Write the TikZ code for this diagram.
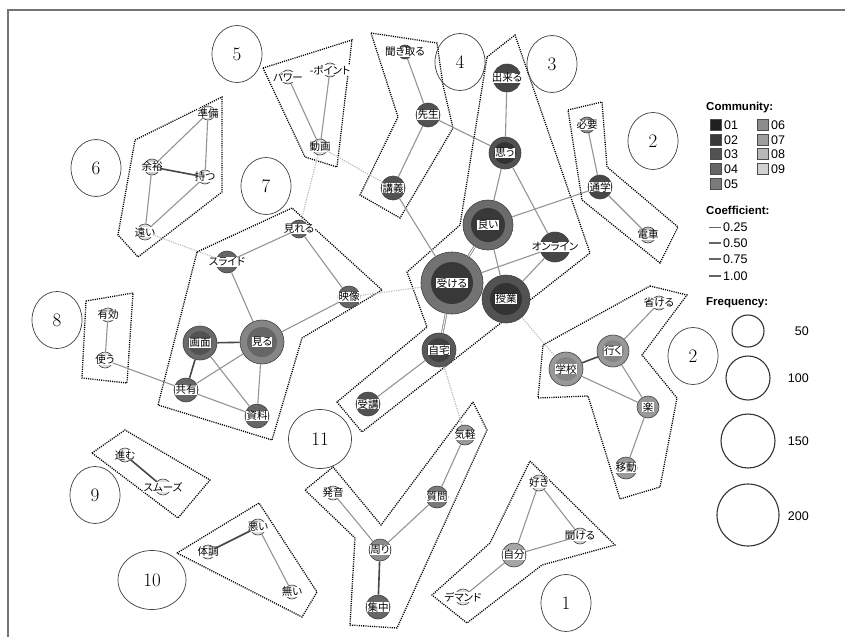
\documentclass[tikz,border=0pt]{standalone}
\usepackage{fontspec}
\usetikzlibrary{shapes.geometric}
\newfontfamily\jp[RawFeature=+palt]{Noto Sans CJK JP}
\newfontfamily\lsans{Liberation Sans}
\newcommand\kwn[6]{\node[kw,minimum size=#4pt,fill=#5,label={[lbl]center:#6}] (#1) at (#2,#3) {};}
\newcommand\kwr[8]{\node[kw,minimum size=#4pt,fill=#5,path picture={\fill[#7] (path picture bounding box.center) circle (#8pt);},label={[lbl]center:#6}] (#1) at (#2,#3) {};}
\begin{document}
\begin{tikzpicture}[x=1pt,y=-1pt,
  kw/.style={circle,draw=black!75,line width=0.6pt,inner sep=0pt},
  lbl/.style={fill=white,inner sep=0.5pt,font=\jp\fontsize{10.5}{10.5}\selectfont},
  ed/.style={draw=black!42,line width=1.1pt},
  eds/.style={draw=black!72,line width=1.6pt},
  edd/.style={draw=black!28,line width=1.1pt,dash pattern=on 1.2pt off 1.2pt},
  hull/.style={draw=black,line width=1.3pt,dash pattern=on 1.1pt off 1.1pt},
  num/.style={ellipse,draw=black!75,line width=0.7pt,minimum width=50pt,minimum height=57pt,inner sep=0pt,font=\fontsize{19}{20}\selectfont},
  sq/.style={draw=black!70,line width=0.6pt,minimum size=11pt,inner sep=0pt},
  lgt/.style={anchor=west,inner sep=0pt,font=\lsans\fontsize{12.5}{13}\selectfont},
  lgh/.style={anchor=west,inner sep=0pt,font=\lsans\bfseries\fontsize{11.5}{12}\selectfont},
  fq/.style={circle,draw=black!80,line width=1.1pt,inner sep=0pt},
]
\useasboundingbox (0,0) rectangle (845,637);
\fill[white] (0,0) rectangle (845,637);
\draw[black!55,line width=1.8pt] (8,637) -- (8,10) -- (845,10);

% hulls
\draw[hull] (135,140) -- (222,97) -- (222,192) -- (138,257) -- (118,235) -- cycle;
\draw[hull] (263,68) -- (352,40) -- (337,167) -- (305,157) -- cycle;
\draw[hull] (371,33) -- (437,43) -- (443,85) -- (453,128) -- (400,218) -- (360,195) -- (398,117) -- cycle;
\draw[hull] (487,57) -- (515,35) -- (590,253) -- (362,432) -- (337,402) -- (427,327) -- (407,272) -- (460,225) -- cycle;
\draw[hull] (568,110) -- (602,102) -- (607,167) -- (678,227) -- (660,263) -- (582,200) -- cycle;
\draw[hull] (197,252) -- (292,208) -- (382,290) -- (302,338) -- (272,440) -- (158,405) -- cycle;
\draw[hull] (86,301) -- (133,293) -- (127,383) -- (82,378) -- cycle;
\draw[hull] (650,286) -- (687,295) -- (642,355) -- (677,398) -- (660,487) -- (620,499) -- (588,396) -- (538,398) -- (543,345) -- cycle;
\draw[hull] (92,453) -- (125,430) -- (210,480) -- (178,518) -- cycle;
\draw[hull] (177,553) -- (259,503) -- (317,592) -- (302,617) -- cycle;
\draw[hull] (473,402) -- (487,430) -- (397,628) -- (350,625) -- (355,538) -- (305,490) -- (333,467) -- (381,525) -- cycle;
\draw[hull] (530,461) -- (615,545) -- (542,565) -- (467,623) -- (432,595) -- (490,543) -- cycle;

% numbered circles
\node[num] (n1) at (566,603) {1};
\node[num] (n2a) at (653,141) {2};
\node[num] (n2b) at (693,356) {2};
\node[num] (n3) at (552,64) {3};
\node[num] (n4) at (460,62) {4};
\node[num] (n5) at (237,54) {5};
\node[num] (n6) at (96,168) {6};
\node[num] (n7) at (266,186) {7};
\node[num] (n8) at (57,320) {8};
\node[num] (n9) at (95,495) {9};
\node[num,minimum width=68pt,minimum height=59pt] (n10) at (152,580) {10};
\node[num,minimum width=63pt,minimum height=59pt] (n11) at (320,439) {11};

% community 3
\kwn{dekiru}{507}{78}{28}{black!72}{出来る}
\kwr{omou}{505}{153}{32}{black!68}{思う}{black!80}{11}
\kwr{yoi}{488}{225}{50}{black!58}{良い}{black!78}{17}
\kwr{ukeru}{452}{283}{62}{black!55}{受ける}{black!78}{21}
\kwr{jugyo}{506}{299}{48}{black!68}{授業}{black!80}{16}
\kwn{online}{555}{247}{30}{black!72}{オンライン}
\kwr{jitaku}{439}{350}{34}{black!65}{自宅}{black!75}{12}
\kwn{jukou}{368}{404}{24}{black!68}{受講}
% community 4
\kwn{kikitoru}{405}{52}{14}{black!68}{聞き取る}
\kwn{sensei}{428}{115}{24}{black!68}{先生}
\kwn{kougi}{393}{188}{24}{black!68}{講義}
% community 5
\kwn{power}{288}{77}{14}{black!12}{パワー}
\kwn{point}{330}{70}{14}{black!12}{-ポイント}
\kwn{douga}{320}{147}{16}{black!12}{動画}
% community 6
\kwn{junbi}{208}{113}{14}{black!12}{準備}
\kwn{yoyuu}{152}{167}{16}{black!20}{余裕}
\kwn{motsu}{205}{177}{14}{black!12}{持つ}
\kwn{tooi}{145}{232}{16}{black!12}{遠い}
% community 7
\kwn{mireru}{299}{229}{18}{black!60}{見れる}
\kwn{slide}{227}{262}{22}{black!60}{スライド}
\kwn{eizou}{349}{297}{22}{black!60}{映像}
\kwr{gamen}{200}{343}{34}{black!58}{画面}{black!68}{12}
\kwr{miru}{262}{342}{44}{black!48}{見る}{black!60}{15}
\kwn{kyouyu}{186}{390}{24}{black!60}{共有}
\kwn{shiryou}{257}{416}{24}{black!60}{資料}
% community 8
\kwn{yuukou}{108}{315}{14}{black!12}{有効}
\kwn{tsukau}{105}{360}{16}{black!12}{使う}
% community 2 top
\kwn{hitsuyou}{587}{125}{16}{black!45}{必要}
\kwn{tsuugaku}{600}{187}{24}{black!72}{通学}
\kwn{densha}{648}{235}{16}{black!25}{電車}
% community 2 bottom
\kwn{habukeru}{659}{303}{14}{black!18}{省ける}
\kwr{iku}{613}{351}{32}{black!40}{行く}{black!48}{11}
\kwr{gakkou}{566}{369}{34}{black!40}{学校}{black!48}{12}
\kwn{raku}{648}{407}{22}{black!40}{楽}
\kwn{idou}{626}{468}{22}{black!40}{移動}
% community 9
\kwn{susumu}{125}{455}{14}{black!12}{進む}
\kwn{smooth}{163}{487}{16}{black!12}{スムーズ}
% community 10
\kwn{warui}{258}{527}{16}{black!12}{悪い}
\kwn{taichou}{208}{552}{14}{black!12}{体調}
\kwn{nai}{292}{592}{14}{black!12}{無い}
% community 11
\kwn{kigaru}{465}{435}{20}{black!40}{気軽}
\kwn{hatsuon}{333}{493}{14}{black!12}{発音}
\kwn{shitsumon}{437}{497}{22}{black!52}{質問}
\kwn{mawari}{380}{550}{22}{black!45}{周り}
\kwn{shuuchuu}{378}{607}{24}{black!60}{集中}
% community 1
\kwn{suki}{539}{483}{16}{black!12}{好き}
\kwn{kikeru}{580}{536}{16}{black!18}{聞ける}
\kwn{jibun}{514}{555}{24}{black!35}{自分}
\kwn{demand}{463}{597}{16}{black!12}{デマンド}

% edges
\foreach \a/\b in {power/douga,point/douga,junbi/yoyuu,junbi/motsu,yoyuu/tooi,motsu/tooi,
  kikitoru/sensei,sensei/kougi,sensei/omou,kougi/ukeru,dekiru/omou,omou/yoi,omou/online,
  yoi/jugyo,yoi/tsuugaku,online/ukeru,online/jugyo,ukeru/jugyo,jitaku/jukou,
  hitsuyou/tsuugaku,tsuugaku/densha,mireru/slide,mireru/eizou,slide/miru,eizou/miru,
  gamen/shiryou,miru/kyouyu,miru/shiryou,kyouyu/shiryou,kyouyu/tsukau,yuukou/tsukau,
  habukeru/iku,gakkou/raku,iku/raku,raku/idou,warui/nai,kigaru/shitsumon,
  shitsumon/mawari,hatsuon/mawari,suki/jibun,suki/kikeru,jibun/kikeru,jibun/demand}
  {\draw[ed] (\a) -- (\b);}
\foreach \a/\b in {yoyuu/motsu,gamen/miru,gamen/kyouyu,iku/gakkou,susumu/smooth,taichou/warui,mawari/shuuchuu}
  {\draw[eds] (\a) -- (\b);}
\foreach \a/\b in {ukeru/jitaku,yoi/ukeru}
  {\draw[draw=black!45,line width=2.6pt] (\a) -- (\b);
   \draw[draw=white,line width=0.8pt] (\a) -- (\b);}
\foreach \a/\b in {tooi/slide,douga/kougi,douga/mireru,eizou/ukeru,jugyo/gakkou,jitaku/kigaru}
  {\draw[edd] (\a) -- (\b);}

% legend
\node[lgh] (lgc) at (706,108) {Community:};
\node[sq,fill=black!88] (s01) at (716,125) {}; \node[lgt] (t01) at (724,125) {01};
\node[sq,fill=black!78] (s02) at (716,140) {}; \node[lgt] (t02) at (724,140) {02};
\node[sq,fill=black!68] (s03) at (716,154) {}; \node[lgt] (t03) at (724,154) {03};
\node[sq,fill=black!60] (s04) at (716,169) {}; \node[lgt] (t04) at (724,169) {04};
\node[sq,fill=black!52] (s05) at (716,184) {}; \node[lgt] (t05) at (724,184) {05};
\node[sq,fill=black!45] (s06) at (763,125) {}; \node[lgt] (t06) at (771,125) {06};
\node[sq,fill=black!38] (s07) at (763,140) {}; \node[lgt] (t07) at (771,140) {07};
\node[sq,fill=black!28] (s08) at (763,154) {}; \node[lgt] (t08) at (771,154) {08};
\node[sq,fill=black!18] (s09) at (763,169) {}; \node[lgt] (t09) at (771,169) {09};

\node[lgh] (lgk) at (706,210) {Coefficient:};
\coordinate (ka1) at (709,227); \coordinate (kb1) at (721,227);
\coordinate (ka2) at (709,243); \coordinate (kb2) at (721,243);
\coordinate (ka3) at (709,259); \coordinate (kb3) at (721,259);
\coordinate (ka4) at (709,276); \coordinate (kb4) at (721,276);
\draw[black!60,line width=0.8pt] (ka1) -- (kb1);
\draw[black!60,line width=1.3pt] (ka2) -- (kb2);
\draw[black!60,line width=1.8pt] (ka3) -- (kb3);
\draw[black!60,line width=2.3pt] (ka4) -- (kb4);
\node[lgt] (k1) at (723,227) {0.25};
\node[lgt] (k2) at (723,243) {0.50};
\node[lgt] (k3) at (723,259) {0.75};
\node[lgt] (k4) at (723,276) {1.00};

\node[lgh] (lgf) at (706,303) {Frequency:};
\node[fq,minimum size=32pt] (f50) at (748,331) {};
\node[fq,minimum size=44pt] (f100) at (748,378) {};
\node[fq,minimum size=54pt] (f150) at (748,441) {};
\node[fq,minimum size=62pt] (f200) at (748,515) {};
\node[lgt,anchor=east] (l50) at (809,331) {50};
\node[lgt,anchor=east] (l100) at (809,378) {100};
\node[lgt,anchor=east] (l150) at (809,441) {150};
\node[lgt,anchor=east] (l200) at (809,516) {200};
\end{tikzpicture}
\end{document}
